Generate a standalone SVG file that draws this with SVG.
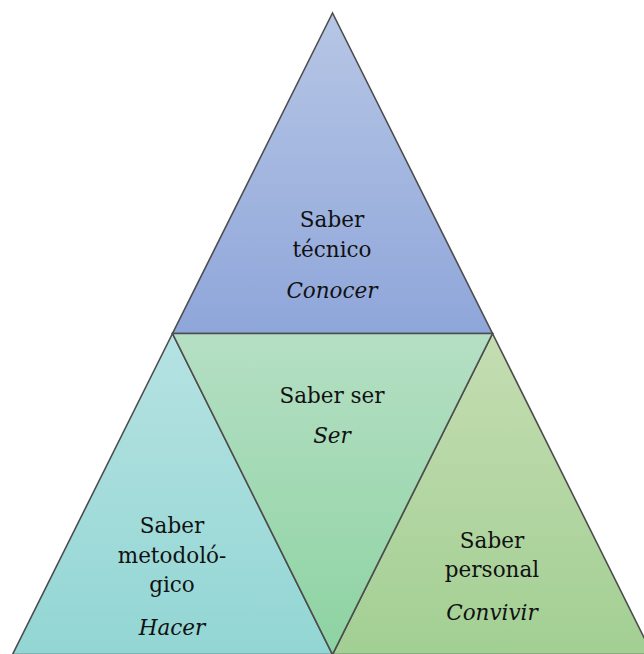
<svg xmlns="http://www.w3.org/2000/svg" width="644" height="654" viewBox="0 0 644 654">
  <style>
    .tri { stroke: #4d4d4d; stroke-width: 1.6; stroke-linejoin: miter; }
    .lbl { font-family: 'DejaVu Serif', serif; font-size: 21.5px; fill: #111; text-anchor: middle; }
    .it { font-style: italic; }
  </style>
  <defs>
    <linearGradient id="gBlue" x1="0" y1="0" x2="0" y2="1">
      <stop offset="0" stop-color="#b6c6e5"/>
      <stop offset="1" stop-color="#8fa6da"/>
    </linearGradient>
    <linearGradient id="gGreen" x1="0" y1="0" x2="0" y2="1">
      <stop offset="0" stop-color="#b5dfc4"/>
      <stop offset="1" stop-color="#8dd3a2"/>
    </linearGradient>
    <linearGradient id="gTeal" x1="0" y1="0" x2="0" y2="1">
      <stop offset="0" stop-color="#b6e2e2"/>
      <stop offset="1" stop-color="#92d6d4"/>
    </linearGradient>
    <linearGradient id="gOlive" x1="0" y1="0" x2="0" y2="1">
      <stop offset="0" stop-color="#c5ddb2"/>
      <stop offset="1" stop-color="#a2cf93"/>
    </linearGradient>
  </defs>

  <!-- upper triangle: technical knowledge -->
  <g id="tecnico" class="lbl">
    <polygon class="tri" points="332.5,13 172.5,333.5 492.5,333.5" fill="url(#gBlue)"/>
    <text x="332" y="227">Saber</text>
    <text x="332" y="257">técnico</text>
    <text x="332" y="298" class="it">Conocer</text>
  </g>

  <!-- lower-left triangle: methodological knowledge -->
  <g id="metodologico" class="lbl">
    <polygon class="tri" points="172.5,333.5 12.5,654.5 332.5,654.5" fill="url(#gTeal)"/>
    <text x="172" y="533">Saber</text>
    <text x="172" y="563">metodoló-</text>
    <text x="172" y="592">gico</text>
    <text x="172" y="635" class="it">Hacer</text>
  </g>

  <!-- lower-right triangle: personal knowledge -->
  <g id="personal" class="lbl">
    <polygon class="tri" points="492.5,333.5 332.5,654.5 652.5,654.5" fill="url(#gOlive)"/>
    <text x="492" y="548">Saber</text>
    <text x="492" y="577">personal</text>
    <text x="492" y="620" class="it">Convivir</text>
  </g>

  <!-- central inverted triangle: knowing how to be -->
  <g id="ser" class="lbl">
    <polygon class="tri" points="172.5,333.5 492.5,333.5 332.5,654.5" fill="url(#gGreen)"/>
    <text x="332" y="403">Saber ser</text>
    <text x="332" y="443" class="it">Ser</text>
  </g>
</svg>
